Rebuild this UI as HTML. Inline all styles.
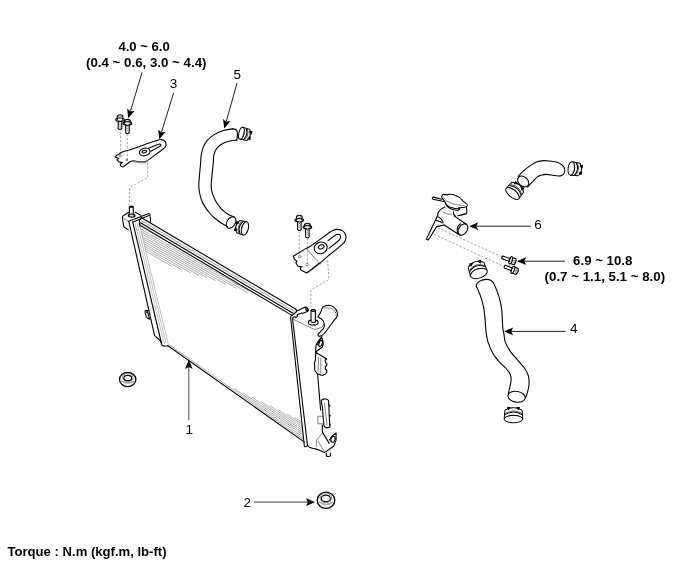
<!DOCTYPE html>
<html><head><meta charset="utf-8"><style>
html,body{margin:0;padding:0;background:#fff;}
body{width:700px;height:564px;position:relative;overflow:hidden;}
svg{position:absolute;left:0;top:0;}
.k{fill:none;stroke:#000;stroke-width:1.1;stroke-linejoin:round;stroke-linecap:round;}
.t{fill:none;stroke:#333;stroke-width:0.6;}
.g{fill:none;stroke:#777;stroke-width:0.7;}
.h{fill:none;stroke:#8a8a8a;stroke-width:0.7;}
.h2{fill:none;stroke:#999;stroke-width:0.6;}
.d{fill:none;stroke:#777;stroke-width:0.65;stroke-dasharray:2.4 1.6;}
.ga{fill:none;stroke:#666;stroke-width:1.2;}
.ah{fill:#000;stroke:none;}
.cl path,.cl ellipse{fill:none;stroke:#000;stroke-width:1.0;stroke-linejoin:round;}
.al{fill:none;stroke:#111;stroke-width:0.95;}
.b,.r{position:absolute;font-family:"Liberation Sans",sans-serif;font-size:13.5px;white-space:nowrap;color:#000;}
.b{font-weight:bold;}
#tx{position:absolute;left:0;top:0;width:700px;height:564px;will-change:transform;}
</style></head><body>
<svg width="700" height="564" viewBox="0 0 700 564">
<line class="h" x1="140.4" y1="228.8" x2="249.1" y2="291.3"/>
<line class="h" x1="141.0" y1="231.3" x2="247.7" y2="292.7"/>
<line class="h" x1="141.6" y1="233.8" x2="236.6" y2="288.4"/>
<line class="h" x1="142.1" y1="236.3" x2="225.1" y2="284.0"/>
<line class="h" x1="142.7" y1="238.7" x2="215.5" y2="280.6"/>
<line class="h" x1="143.3" y1="241.2" x2="207.1" y2="277.9"/>
<line class="h" x1="143.9" y1="243.7" x2="198.6" y2="275.2"/>
<line class="h" x1="144.5" y1="246.2" x2="190.7" y2="272.8"/>
<line class="h" x1="145.1" y1="248.7" x2="182.1" y2="270.0"/>
<line class="h" x1="145.6" y1="251.2" x2="171.6" y2="266.1"/>
<line class="h" x1="168.5" y1="344.1" x2="303.6" y2="439.5"/>
<line class="h" x1="233.9" y1="388.3" x2="303.4" y2="437.4"/>
<line class="h" x1="242.9" y1="392.7" x2="303.2" y2="435.2"/>
<line class="h" x1="251.9" y1="397.0" x2="302.9" y2="433.0"/>
<line class="h" x1="260.9" y1="401.4" x2="302.7" y2="430.9"/>
<line class="h" x1="269.7" y1="405.6" x2="302.4" y2="428.7"/>
<line class="h" x1="278.7" y1="409.9" x2="302.2" y2="426.5"/>
<line class="h" x1="287.2" y1="413.9" x2="301.9" y2="424.3"/>
<line class="h" x1="294.5" y1="417.0" x2="301.7" y2="422.2"/>
<line class="h2" x1="135.2" y1="223.5" x2="164.1" y2="343.5"/>
<line class="h2" x1="137.2" y1="223.5" x2="166.1" y2="343.5"/>
<line class="h2" x1="139.2" y1="223.5" x2="168.1" y2="343.5"/>
<line class="k" x1="141.5" y1="217.7" x2="296.0" y2="309.3"/>
<line class="g" x1="141.0" y1="220.4" x2="294.5" y2="311.4"/>
<line class="k" x1="140.5" y1="222.8" x2="293.0" y2="313.2"/>
<line class="k" x1="140.0" y1="225.3" x2="292.0" y2="315.4"/>
<path class="k" d="M141.5,217.5 L139.5,220 L139.8,226"/>
<path class="k" d="M296,309.3 L296.5,311.8 L292,315.4"/>
<path class="k" d="M128.8,221.3 L154.5,335.3 L160.5,341 L162.3,345.6 L165.5,346.2 L167.9,345.7"/>
<path class="k" d="M132.7,221.9 L161.4,343"/>
<path class="k" d="M128.6,221.3 L148.9,213.6 L150,214.4 L150.6,221.9"/>
<path class="k" d="M133.1,221.9 L148.9,215.6"/>
<path class="k" d="M128.3,229.9 L123.8,226.7 L122.3,217.5 Q122.2,216 124,215.2 L128.6,212.5 M135.2,212.2 L140.9,215.3"/>
<path class="t" d="M123.6,218.3 L128.3,221.3"/>
<path class="k" d="M129.4,215.2 L129.4,207 Q131.3,205.6 133.3,207 L133.3,215.2"/>
<ellipse class="k" cx="131.7" cy="215.6" rx="3.4" ry="1.5"/>
<rect x="129.3" y="205.7" width="4.1" height="2.0" rx="0.8" fill="#000"/>
<path class="k" d="M148.2,310.9 L145.6,310.4 Q144.8,311 145.2,312.4 L146.3,316.9 Q147,318.9 149.9,319.3 M146.5,312.2 Q146.6,311.6 147.6,312.2 L149.3,318.4"/>
<line class="k" x1="167.9" y1="345.7" x2="303.8" y2="441.6"/>
<path class="k" d="M291.8,315.1 Q290.6,315.8 290.6,317.5 L304.2,444.5 Q304,447 306,446.8 Q307,446.5 307.2,445.5"/>
<path class="k" d="M297.3,314.6 L297.3,316.4 L296,317.7 L294.6,316.8 L292.9,317.3 L292.6,319 L307.5,445.5"/>
<path class="k" d="M296.8,311.1 L304.3,307.4 Q306.8,306.6 307.9,308.6 Q308.6,310.5 307.2,311.5 L303,313.3 L301.7,313.1 L297.3,314.8"/>
<ellipse cx="306.9" cy="309.4" rx="0.9" ry="1.6" transform="rotate(-25 306.9 309.4)" fill="none" stroke="#000" stroke-width="1.3"/>
<path class="t" d="M292.7,318.9 L305,325.1 L314.6,329.5 L321.8,327.5 L324.2,324" stroke="#888"/>
<ellipse class="k" cx="313.2" cy="322.5" rx="4.9" ry="2.6" style="fill:#fff"/>
<path class="k" d="M311,321.8 L311,310.6 Q313.2,309 315.4,310.6 L315.4,321.8 Q313.2,323 311,321.8 Z" style="fill:#fff"/>
<ellipse class="k" cx="313.2" cy="310.6" rx="2.2" ry="0.9" stroke-width="1.6"/>
<path class="k" d="M317.8,316.8 Q320,314 321,311.2 Q322,307.8 323.2,306.8 Q325.5,305.3 329,305.2 Q333,305.5 336.1,309.6 Q338,312.5 337.5,315.5 Q336.8,317.5 335.3,318.8 L331.3,324 L327.4,329.5 L324.2,333.5 Q322.5,335.8 319.5,336.4 Q317.5,336.3 318.2,334.3 Q319,332.5 320.2,331.9 L323.4,328.7 Q324.8,326 324.2,323.5 Q323.6,320.5 321,318.8 Z"/>
<path class="t" d="M324.2,308 Q331,307 334.8,311 Q336.6,313.5 336.1,316" stroke="#999"/>
<path class="k" d="M321.8,336.4 L317,345"/>
<path class="k" d="M317.6,374 L320.6,410 M322.3,425 L322.3,431.9 L329.2,443.4"/>
<path class="k" d="M321.6,337.4 Q317,342 316,345.4 L315.6,352 L322.4,347 Q324,343 322.5,340 Z"/>
<ellipse class="k" cx="320.6" cy="343.5" rx="1.6" ry="3.2" transform="rotate(20 320.6 343.5)"/>
<path class="k" d="M315.6,352.2 L326.8,359 L325.2,359.8 L325.3,362.5 L326.8,363.5 L326.8,365.5 L325.3,366.2 L325.3,369.5 L326.8,370.3 L326.8,372.2 L325.4,374 L322.6,375.5 L320.8,374.9 L317.6,374 L314.8,370.5 L314.5,363 L315.5,359.5 Z"/>
<path class="t" d="M320.8,358 L320.8,373.5 M318.5,357 L318,372"/>
<path class="k" d="M321.1,400.8 Q322.5,398.5 325.5,399 Q328,399.5 328.6,400.8 L329.8,427.3 L326.3,427.9 L324,426.1 L322.3,406.5 Z"/>
<path class="k" d="M329,405 L330,406 M329.3,415 L330.3,416 M329.7,424 L330.5,425"/>
<path class="t" d="M317.7,416.3 L323.4,416.3 L323.6,423.8 L318,423.8 Z M324.5,403 L327,425"/>
<path class="k" d="M307.4,445.3 Q309.5,447.5 311.3,447.9 Q313.5,448.6 315.5,448.9 Q318,449.6 320,450.5 L324.6,452.6 L333.8,446 L336.1,440 L336.1,433 L331.5,436.5 L329.5,440"/>
<path class="t" d="M316.6,440 L316.4,446.8 M316.6,440 L322.3,433 M318,441 L324.6,452"/>
<ellipse class="k" cx="333" cy="439.3" rx="2" ry="3" transform="rotate(20 333 439.3)"/>
<path class="k" d="M326.3,453.2 L326.3,456.1 Q328.3,457 330.4,456.1 L330.4,453.4"/>
<path class="d" d="M120.6,128 L120.6,154.8 M127.3,134 L127.3,160"/>
<path class="d" d="M147.5,162.8 L148,177.3 L129.6,187.6 L129.6,205"/>
<path class="d" d="M299.3,231 L299.3,254.3 M307.4,238 L307.4,263"/>
<path class="d" d="M327.6,260.1 L329,279.4 L310.9,290 L310.9,307"/>
<path class="d" d="M437.7,227.9 L501.4,256.6 M434.1,234.3 L503.6,266.4"/>
<path class="k" style="fill:#fff" d="M118.2,120.7 L118.2,128.7 Q120.0,130.1 121.8,128.7 L121.8,120.7"/>
<path d="M119.1,122.2 L120.9,123.2 M119.1,124.2 L120.9,125.2 M119.1,126.2 L120.9,127.2" stroke="#777" stroke-width="0.8" fill="none"/>
<path class="k" style="fill:#fff" d="M117.2,119.7 L117.2,115.9 Q120.0,113.7 122.8,115.9 L122.8,119.7"/>
<path class="t" d="M117.4,116.1 Q120.0,117.8 122.6,116.1"/>
<ellipse class="k" cx="120.0" cy="119.7" rx="4.3" ry="1.7"/>
<path class="k" style="fill:#fff" d="M125.7,124.5 L125.7,132.8 Q127.4,134.2 129.2,132.8 L129.2,124.5"/>
<path d="M126.5,126.0 L128.3,127.0 M126.5,128.0 L128.3,129.0 M126.5,130.0 L128.3,131.0" stroke="#777" stroke-width="0.8" fill="none"/>
<path class="k" style="fill:#fff" d="M124.6,123.5 L124.6,120.5 Q127.4,118.3 130.2,120.5 L130.2,123.5"/>
<path class="t" d="M124.8,120.7 Q127.4,122.4 130.0,120.7"/>
<ellipse class="k" cx="127.4" cy="123.5" rx="4.3" ry="1.7"/>
<path class="k" style="fill:#fff" d="M297.6,221.3 L297.6,229.7 Q299.3,231.1 301.1,229.7 L301.1,221.3"/>
<path d="M298.4,222.8 L300.2,223.8 M298.4,224.8 L300.2,225.8 M298.4,226.8 L300.2,227.8" stroke="#777" stroke-width="0.8" fill="none"/>
<path class="k" style="fill:#fff" d="M296.5,220.3 L296.5,216.3 Q299.3,214.1 302.1,216.3 L302.1,220.3"/>
<path class="t" d="M296.7,216.5 Q299.3,218.2 301.9,216.5"/>
<ellipse class="k" cx="299.3" cy="220.3" rx="4.3" ry="1.7"/>
<path class="k" style="fill:#fff" d="M305.6,228.3 L305.6,237.1 Q307.4,238.5 309.1,237.1 L309.1,228.3"/>
<path d="M306.5,229.8 L308.3,230.8 M306.5,231.8 L308.3,232.8 M306.5,233.8 L308.3,234.8" stroke="#777" stroke-width="0.8" fill="none"/>
<path class="k" style="fill:#fff" d="M304.6,227.3 L304.6,224.3 Q307.4,222.1 310.2,224.3 L310.2,227.3"/>
<path class="t" d="M304.8,224.5 Q307.4,226.2 310.0,224.5"/>
<ellipse class="k" cx="307.4" cy="227.3" rx="4.3" ry="1.7"/>
<g transform="translate(512.9,261.0) rotate(-161.2)"><path class="k" d="M3,-1.45 L11.2,-1.45 Q12.2,0 11.2,1.45 L3,1.45"/><ellipse class="k" cx="2.3" cy="0" rx="1.5" ry="3.8"/><path class="k" d="M1.5,-3.2 L-2.2,-3.2 Q-4,0 -2.2,3.2 L1.5,3.2"/><circle class="t" cx="-1" cy="0" r="1.2"/></g>
<g transform="translate(515.0,270.7) rotate(-158.1)"><path class="k" d="M3,-1.45 L11.0,-1.45 Q12.0,0 11.0,1.45 L3,1.45"/><ellipse class="k" cx="2.3" cy="0" rx="1.5" ry="3.8"/><path class="k" d="M1.5,-3.2 L-2.2,-3.2 Q-4,0 -2.2,3.2 L1.5,3.2"/><circle class="t" cx="-1" cy="0" r="1.2"/></g>
<path class="k" style="stroke-linejoin:miter" d="M115.3,157 L116.6,155.3 L118.6,154.5 L121.1,152.4 L124.4,151.2 L128.6,150.3 L136.9,147.4 L146.8,143.7 L156.7,140.4 Q160,139.3 161.7,139.6 Q164.5,140.2 165.6,142 Q166.8,144.5 165,147.4 L160.9,150.7 L155.1,154.9 L148.5,159.9 L145.1,161.9 L139.3,161.9 L133.5,160.7 L130.2,161.5 L126.1,164.8 L122.8,166.9 L121.1,166.5 L120.2,164.2 L122.3,162.6 L118.6,161.7 L117,159.9 L118.6,158.5 Z"/>
<path d="M133.5,161.5 L139.3,162.5 L145.1,162.5 L148.5,160.5" fill="none" stroke="#888" stroke-width="1.3"/>
<ellipse class="k" cx="144.7" cy="152" rx="5.4" ry="3.7" transform="rotate(-15 144.7 152)"/>
<ellipse class="k" cx="144.3" cy="151.6" rx="2.4" ry="1.2" transform="rotate(-15 144.3 151.6)"/>
<path class="k" d="M148.5,148.3 L159.2,144.1 Q161.3,143.8 160.8,145.8 L150.9,151.2"/>
<circle class="t" cx="120.3" cy="156.1" r="0.9"/><circle class="t" cx="126.9" cy="159.9" r="0.9"/>
<path class="k" style="stroke-linejoin:miter" d="M293.4,256.2 L299.8,252.3 L306.1,248.4 L308.5,247.4 L316.3,242.1 L329,232.8 L332.9,230.4 Q335.5,229.2 337.8,229.4 Q341,229.5 342.7,230.9 Q345.4,232.8 345.9,235.8 Q346.5,239.5 344.1,242.6 L338.8,247.4 L329,255.2 L321.2,262.1 L318.3,264 L314.4,267 L309.5,270.9 L306.6,272.8 L302.7,270.9 L300.7,269.9 L300.2,267.9 L301.7,267 L297.8,266 L295.9,263 L296.8,261.1 L294.4,259.1 Z"/>
<path class="t" d="M306.1,248.4 L319.3,263 M306.6,273.6 L309.5,271.8 L318.3,264.9 L321.5,263"/>
<path class="k" d="M328,240.6 L335.9,234.8 Q339.5,233.5 340.5,235.7 Q341.3,238 338.5,240.8 L329,248.4"/>
<ellipse class="k" cx="320.7" cy="247.9" rx="6.6" ry="5.7" transform="rotate(-20 320.7 247.9)"/>
<ellipse class="k" cx="321.2" cy="246.8" rx="2.9" ry="2.0" transform="rotate(-20 321.2 246.8)"/>
<circle class="t" cx="299.8" cy="256.7" r="1.2"/><circle class="t" cx="307.1" cy="264.5" r="1.2"/>
<path class="k" d="M232.7,128.9 C231.0,129.2 226.0,129.8 222.8,130.8 C219.6,131.8 216.1,133.5 213.5,135.1 C210.9,136.7 209.1,138.3 207.3,140.4 C205.6,142.5 204.0,145.3 203.0,147.9 C202.0,150.5 201.5,153.4 201.1,155.9 C200.7,158.4 200.9,159.8 200.6,163.0 C200.3,166.2 199.8,171.3 199.5,175.0 C199.2,178.7 198.8,182.0 198.8,185.0 C198.8,188.0 199.1,190.5 199.6,193.0 C200.1,195.5 200.7,197.9 201.6,200.2 C202.5,202.5 203.5,204.5 204.8,206.6 C206.1,208.7 207.9,211.0 209.6,213.0 C211.3,215.0 213.2,216.8 215.2,218.5 C217.2,220.2 219.5,222.0 221.6,223.3 C223.7,224.6 226.5,226.0 227.5,226.5"/>
<path class="k" d="M236.8,140.1 C235.5,140.3 231.3,140.7 229.0,141.3 C226.7,141.9 224.7,142.5 222.8,143.5 C221.0,144.5 219.2,145.8 217.9,147.2 C216.6,148.6 215.4,150.5 214.7,152.2 C214.0,153.9 213.7,155.4 213.5,157.2 C213.3,159.0 213.6,160.0 213.3,163.0 C213.1,166.0 212.3,171.3 212.0,175.0 C211.7,178.7 211.2,182.1 211.2,185.0 C211.2,187.9 211.3,189.7 212.0,192.2 C212.7,194.7 213.9,197.7 215.2,200.2 C216.5,202.7 218.3,205.3 220.0,207.4 C221.7,209.5 223.8,211.2 225.6,212.6 C227.4,214.0 229.6,215.1 231.1,215.8 C232.6,216.5 233.8,216.8 234.3,217.0"/>
<path class="k" d="M232.7,128.9 Q236.5,128.8 237.3,132 Q237.8,135 236.8,140.1"/>
<ellipse class="k" cx="231.1" cy="222.5" rx="4.1" ry="6.3" transform="rotate(32 231.1 222.5)"/>
<g transform="translate(241.4,133.2) rotate(14.0)" class="cl">
<path d="M3.62,-5.77 Q7.12,0 3.62,5.77"/>
<path d="M4.72,-5.58 Q8.22,0 4.72,5.58" style="stroke-width:0.6"/>
<path d="M7.25,-5.77 Q10.75,0 7.25,5.77"/>
<path d="M0,-6.20 L7.25,-5.77 M0,6.20 L7.25,5.77"/>
<path d="M0.50,-6.08 Q4.75,0 0.50,6.08"/>
<ellipse cx="0" cy="0" rx="2.50" ry="6.20" style="fill:#fff"/>
<path d="M7.50,-3.41 l2.4,-0.9 l-0.2,2.8 z M7.50,3.41 l2.4,0.9 l-0.2,-2.8 z" style="fill:#000"/>
</g>
<g transform="translate(245.0,228.4) rotate(195.0)" class="cl">
<path d="M3.51,-6.42 Q8.12,0 3.51,6.42"/>
<path d="M4.61,-6.21 Q9.22,0 4.61,6.21" style="stroke-width:0.6"/>
<path d="M7.01,-6.42 Q11.63,0 7.01,6.42"/>
<path d="M0,-6.90 L7.01,-6.42 M0,6.90 L7.01,6.42"/>
<path d="M0.66,-6.76 Q6.27,0 0.66,6.76"/>
<ellipse cx="0" cy="0" rx="3.30" ry="6.90" style="fill:#fff"/>
<path d="M7.34,-3.80 l2.4,-0.9 l-0.2,2.8 z M7.34,3.80 l2.4,0.9 l-0.2,-2.8 z" style="fill:#000"/>
</g>
<path class="k" d="M518.1,176.4 C519.1,175.3 522.3,171.9 524.4,170.1 C526.5,168.3 528.6,166.8 530.7,165.4 C532.8,164.0 534.9,162.6 537.0,161.8 C539.1,161.0 541.2,160.7 543.3,160.6 C545.4,160.5 547.2,160.7 549.6,161.0 C552.0,161.3 555.3,161.5 557.4,162.2 C559.5,162.9 560.9,163.9 562.1,165.0 C563.3,166.1 564.1,167.3 564.5,168.5 C564.9,169.7 564.9,171.3 564.5,172.4 C564.1,173.5 563.1,174.6 562.1,175.2 C561.1,175.8 559.8,176.0 558.2,176.0 C556.6,176.0 554.7,175.5 552.7,175.2 C550.7,174.9 548.4,174.4 546.4,174.4 C544.4,174.4 542.5,174.8 540.9,175.2 C539.3,175.6 538.3,176.1 537.0,177.1 C535.7,178.1 534.4,179.7 533.1,181.1 C531.8,182.5 530.0,184.4 529.1,185.4 C528.2,186.4 527.9,186.7 527.6,187.0"/>
<ellipse class="k" cx="523.2" cy="181.5" rx="6.3" ry="4.6" transform="rotate(42 523.2 181.5)"/>
<g transform="translate(512.5,193.5) rotate(-50.0)" class="cl">
<path d="M4.18,-7.63 Q9.50,0 4.18,7.63"/>
<path d="M5.28,-7.38 Q10.60,0 5.28,7.38" style="stroke-width:0.6"/>
<path d="M8.36,-7.63 Q13.68,0 8.36,7.63"/>
<path d="M0,-8.20 L8.36,-7.63 M0,8.20 L8.36,7.63"/>
<path d="M0.76,-8.04 Q7.22,0 0.76,8.04"/>
<ellipse cx="0" cy="0" rx="3.80" ry="8.20" style="fill:#fff"/>
<path d="M8.74,-4.51 l2.4,-0.9 l-0.2,2.8 z M8.74,4.51 l2.4,0.9 l-0.2,-2.8 z" style="fill:#000"/>
</g>
<g transform="translate(571.3,168.4) rotate(8.0)" class="cl">
<path d="M4.02,-6.32 Q8.50,0 4.02,6.32"/>
<path d="M5.12,-6.12 Q9.60,0 5.12,6.12" style="stroke-width:0.6"/>
<path d="M8.04,-6.32 Q12.52,0 8.04,6.32"/>
<path d="M0,-6.80 L8.04,-6.32 M0,6.80 L8.04,6.32"/>
<path d="M0.64,-6.66 Q6.08,0 0.64,6.66"/>
<ellipse cx="0" cy="0" rx="3.20" ry="6.80" style="fill:#fff"/>
<path d="M8.36,-3.74 l2.4,-0.9 l-0.2,2.8 z M8.36,3.74 l2.4,0.9 l-0.2,-2.8 z" style="fill:#000"/>
</g>
<path class="k" d="M445,201.8 L433,199.3 Q431.6,198.2 433,197.1 L441.8,199.3"/>
<path class="k" d="M444.9,207.1 Q441,208.5 438.6,211.8 Q437.6,213.8 437.7,215.7"/>
<path class="t" d="M443.4,212.1 Q447,214.8 452,214.3" stroke="#999"/>
<path class="k" d="M453.4,211.9 Q453.3,214.5 455.6,216.4 M457.7,215.7 Q462,214.8 466.3,213.6 Q467.3,212 466.7,210.5 L466.4,206.9"/>
<path class="k" d="M446.2,204.3 Q447,207 451.3,208.9 Q455,210.5 458.2,210.2 Q459.5,209.5 460,208"/>
<path class="k" style="fill:#fff" d="M441.8,196.2 Q442.2,194.3 443.6,194.4 L446.9,194.9 Q449,194 450.6,194.2 Q453,194.3 455,195.2 Q457.5,196.2 459.4,197.4 Q461.5,199 462.6,200.6 L465.7,203.1 Q467.8,204.6 467.3,205.6 Q466.8,207 465.7,207 L463.2,207.5 L460.7,207.5 L458.8,208.1 Q457.5,208.8 456.3,208.7 Q454.5,208.6 453.1,208.1 L449.4,206.9 Q447.3,205.7 446.2,204.3 Q445.3,203.2 445,201.8 L442.5,198.7 Q441.6,197.3 441.8,196.2 Z"/>
<path class="t" d="M443.1,197.4 Q446,201.5 452,203.5 Q458,205.5 464.5,205.6" stroke="#999"/>
<path class="k" d="M454.1,215.9 L466.3,224.3 M444.1,225 L458.4,234.3"/>
<ellipse class="k" cx="462.9" cy="229.5" rx="4.2" ry="6.3" transform="rotate(33 462.9 229.5)"/>
<path class="k" d="M460.5,223.8 Q456.3,226.5 457.3,232.2 Q458,234.3 459.8,235"/>
<path class="t" d="M461.8,224.2 Q458,227 458.8,232.5" stroke="#555"/>
<path class="k" d="M437.6,215.7 L426.3,239.3 L428.4,240 L436.3,227.1 Q437.5,226 439.1,226.1 L444.1,225"/>
<path class="k" d="M435.6,220 L443.4,222.9 M438.4,217.1 Q441.5,218.5 442.7,221.4"/>
<path class="k" d="M476.3,286.5 C476.7,287.3 477.7,289.0 478.6,291.1 C479.5,293.2 480.6,296.3 481.5,299.2 C482.4,302.1 483.2,305.1 483.8,308.4 C484.4,311.7 484.7,315.7 485.0,318.8 C485.3,321.9 485.4,324.3 485.6,326.9 C485.8,329.5 486.0,331.9 486.4,334.5 C486.8,337.1 487.1,339.4 488.1,342.4 C489.1,345.4 490.6,349.3 492.4,352.4 C494.1,355.5 496.3,358.4 498.6,361.1 C500.9,363.8 504.1,366.2 506.1,368.5 C508.1,370.8 509.6,372.6 510.4,374.7 C511.2,376.8 511.1,378.8 511.0,380.9 C510.9,383.0 510.3,384.9 509.8,387.1 C509.3,389.3 508.5,393.0 508.2,394.2"/>
<path class="k" d="M493.6,283.1 C494.2,284.4 496.0,288.2 497.1,291.1 C498.2,294.0 499.2,297.3 500.0,300.4 C500.8,303.5 501.3,306.5 501.7,309.6 C502.1,312.7 502.1,315.7 502.3,318.8 C502.5,321.9 502.5,325.4 502.8,328.0 C503.1,330.6 503.6,332.1 504.0,334.5 C504.4,336.9 504.2,339.4 505.4,342.4 C506.6,345.4 508.8,349.3 511.0,352.4 C513.2,355.5 516.2,358.4 518.5,361.1 C520.8,363.8 523.1,366.0 524.7,368.5 C526.4,371.0 527.7,373.3 528.4,376.0 C529.1,378.7 529.2,381.8 529.0,384.7 C528.8,387.6 527.8,391.1 527.2,393.3 C526.6,395.5 525.9,397.1 525.6,397.8"/>
<path class="k" d="M476.3,286.5 Q476,284.5 476.9,283.6 Q478.5,281.5 480.4,280.8 Q483,279.6 486.1,279.4 Q489,279.3 490.7,280.2 Q492.6,281.3 493.6,283.1"/>
<ellipse class="k" cx="516.6" cy="396.8" rx="8.7" ry="5.4" transform="rotate(9 516.6 396.8)"/>
<g transform="translate(478.8,273.5) rotate(-108.0)" class="cl">
<path d="M4.56,-8.18 Q11.00,0 4.56,8.18"/>
<path d="M5.66,-7.92 Q12.10,0 5.66,7.92" style="stroke-width:0.6"/>
<path d="M9.12,-8.18 Q15.56,0 9.12,8.18"/>
<path d="M0,-8.80 L9.12,-8.18 M0,8.80 L9.12,8.18"/>
<path d="M0.92,-8.62 Q8.74,0 0.92,8.62"/>
<ellipse cx="0" cy="0" rx="4.60" ry="8.80" style="fill:#fff"/>
<path d="M9.58,-4.84 l2.4,-0.9 l-0.2,2.8 z M9.58,4.84 l2.4,0.9 l-0.2,-2.8 z" style="fill:#000"/>
</g>
<g transform="translate(513.5,419.1) rotate(-90.0)" class="cl">
<path d="M4.45,-8.65 Q9.62,0 4.45,8.65"/>
<path d="M5.54,-8.37 Q10.72,0 5.54,8.37" style="stroke-width:0.6"/>
<path d="M8.89,-8.65 Q14.07,0 8.89,8.65"/>
<path d="M0,-9.30 L8.89,-8.65 M0,9.30 L8.89,8.65"/>
<path d="M0.74,-9.11 Q7.03,0 0.74,9.11"/>
<ellipse cx="0" cy="0" rx="3.70" ry="9.30" style="fill:#fff"/>
<path d="M9.26,-5.12 l2.4,-0.9 l-0.2,2.8 z M9.26,5.12 l2.4,0.9 l-0.2,-2.8 z" style="fill:#000"/>
</g>
<path d="M121.1,380.9 Q127.7,385.5 134.3,380.9" fill="none" stroke="#aaa" stroke-width="1.6"/>
<ellipse cx="127.7" cy="379.5" rx="8.2" ry="7.1" fill="none" stroke="#000" stroke-width="1.3"/>
<ellipse class="t" cx="127.8" cy="377.5" rx="5.2" ry="4.3" stroke="#bbb"/>
<ellipse class="k" cx="127.8" cy="378.1" rx="3.9" ry="2.7"/>
<path d="M319.0,501.8 Q326.0,507.1 333.0,501.8" fill="none" stroke="#aaa" stroke-width="1.6"/>
<ellipse cx="326" cy="500.2" rx="8.8" ry="8.1" fill="none" stroke="#000" stroke-width="1.3"/>
<ellipse class="t" cx="325.8" cy="497.79999999999995" rx="5.8" ry="4.9" stroke="#bbb"/>
<ellipse class="k" cx="325.8" cy="498.4" rx="4.5" ry="3.3"/>
<line class="al" x1="142.0" y1="72.4" x2="130.4" y2="111.4"/>
<path class="ah" d="M128.3,118.3 L127.1,108.6 L130.4,111.4 L134.6,110.8 Z"/>
<line class="al" x1="173.6" y1="92.9" x2="161.4" y2="132.4"/>
<path class="ah" d="M159.3,139.3 L158.2,129.6 L161.4,132.4 L165.7,131.8 Z"/>
<line class="al" x1="237.1" y1="82.9" x2="226.2" y2="121.7"/>
<path class="ah" d="M224.3,128.6 L223.0,118.9 L226.2,121.7 L230.5,121.0 Z"/>
<line class="ga" x1="188.8" y1="420.2" x2="188.8" y2="367.1"/>
<path class="ah" d="M188.8,359.9 L192.7,368.9 L188.8,367.1 L184.9,368.9 Z"/>
<line class="ga" x1="254.0" y1="502.2" x2="307.9" y2="502.2"/>
<path class="ah" d="M315.1,502.2 L306.1,506.1 L307.9,502.2 L306.1,498.3 Z"/>
<line class="al" x1="530.7" y1="226.2" x2="476.4" y2="226.2"/>
<path class="ah" d="M469.2,226.2 L478.2,222.3 L476.4,226.2 L478.2,230.1 Z"/>
<line class="al" x1="564.9" y1="261.2" x2="524.3" y2="261.2"/>
<path class="ah" d="M517.1,261.2 L526.1,257.3 L524.3,261.2 L526.1,265.1 Z"/>
<line class="al" x1="565.6" y1="331.4" x2="511.3" y2="331.4"/>
<path class="ah" d="M504.1,331.4 L513.1,327.5 L511.3,331.4 L513.1,335.3 Z"/>
</svg>
<div id="tx">
<div class="b" style="left:118.4px;top:38.5px;font-size:13.1px">4.0 ~ 6.0</div>
<div class="b" style="left:86px;top:54.5px;font-size:13.3px">(0.4 ~ 0.6, 3.0 ~ 4.4)</div>
<div class="r" style="left:169.8px;top:75.8px">3</div>
<div class="r" style="left:233.6px;top:66.5px">5</div>
<div class="r" style="left:534.3px;top:217.2px">6</div>
<div class="b" style="left:573.1px;top:253.2px;font-size:13.25px">6.9 ~ 10.8</div>
<div class="b" style="left:544.6px;top:269px;font-size:13.3px">(0.7 ~ 1.1, 5.1 ~ 8.0)</div>
<div class="r" style="left:570px;top:321.4px">4</div>
<div class="r" style="left:185.4px;top:422.3px">1</div>
<div class="r" style="left:243.4px;top:494.6px">2</div>
<div class="b" style="left:7.5px;top:544px;font-size:13.1px">Torque : N.m (kgf.m, lb-ft)</div>
</div>
</body></html>
